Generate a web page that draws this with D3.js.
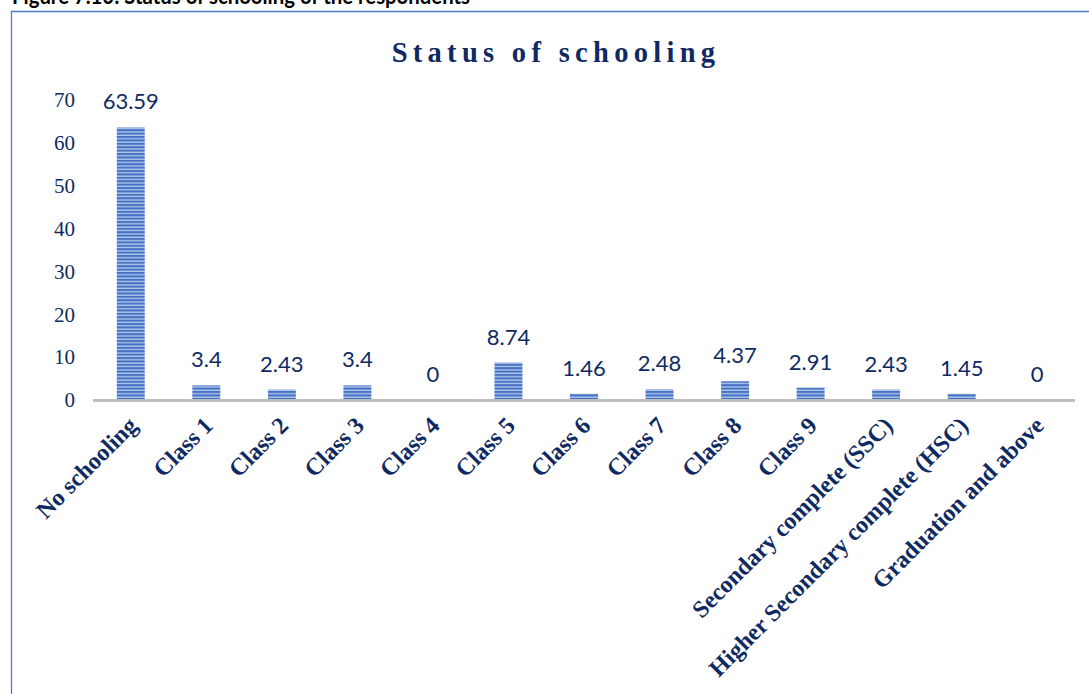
<!DOCTYPE html>
<html><head><meta charset="utf-8">
<script src="https://cdn.jsdelivr.net/npm/d3@7"></script>
<style>html,body{margin:0;padding:0;background:#fff;overflow:hidden}</style>
</head><body><svg id="c" width="1089" height="694"></svg>
<script>
const categories = ["No schooling","Class 1","Class 2","Class 3","Class 4","Class 5","Class 6","Class 7","Class 8","Class 9","Secondary complete (SSC)","Higher Secondary complete (HSC)","Graduation and above"];
const values = [63.59,3.4,2.43,3.4,0,8.74,1.46,2.48,4.37,2.91,2.43,1.45,0];
const yTicks = [0,10,20,30,40,50,60,70];
const chartTitle = "Status of schooling";
const figureCaption = "Figure 7.10: Status of schooling of the respondents";

const svg = d3.select("#c");
const navy = "#0F2A63";

const defs = svg.append("defs");
const pat = defs.append("pattern").attr("id","stripes").attr("patternUnits","userSpaceOnUse")
  .attr("width",8).attr("height",3.4);
pat.append("rect").attr("width",8).attr("height",3.4).attr("fill","#B7C9EA");
pat.append("rect").attr("width",8).attr("height",2.1).attr("fill","#4472C4");

// caption (partly cut off at top, as in the source page)
svg.append("text").attr("x",12).attr("y",4).attr("font-family","Lato, 'Open Sans', sans-serif")
  .attr("font-weight","bold").attr("font-size",22).attr("fill","#000")
  .attr("textLength",458).attr("lengthAdjust","spacingAndGlyphs").text(figureCaption);

svg.append("path").attr("d","M11.5,694 V11.5 H1089").attr("fill","none").attr("stroke","#4F7BC8").attr("stroke-width",1.3);

const x = d3.scaleBand().domain(categories).range([93,1075]).paddingInner(0.63).paddingOuter(0.315);
const y = d3.scaleLinear().domain([0,70]).range([400,100]);

svg.append("text").attr("x",556).attr("y",62).attr("text-anchor","middle")
  .attr("font-family","'Liberation Serif', 'Times New Roman', serif").attr("font-weight","bold")
  .attr("font-size",28.5).attr("letter-spacing",5.3).attr("fill",navy).text(chartTitle);

const yAxis = d3.axisLeft(y).tickValues(yTicks).tickSize(0).tickPadding(0);
const gy = svg.append("g").attr("transform","translate(75,0)").call(yAxis);
gy.select(".domain").remove();
gy.selectAll("text").attr("font-family","'Liberation Serif', 'Times New Roman', serif")
  .attr("font-size",21).attr("fill",navy);

svg.append("g").selectAll("rect").data(values).join("rect")
  .attr("x",(d,i)=>x(categories[i])).attr("width",x.bandwidth())
  .attr("y",d=>y(d)).attr("height",d=>y(0)-y(d)).attr("fill","url(#stripes)");

svg.append("line").attr("x1",93).attr("x2",1075).attr("y1",y(0)+0.5).attr("y2",y(0)+0.5)
  .attr("stroke","#BFBFBF").attr("stroke-width",3);

svg.append("g").selectAll("text").data(values).join("text")
  .attr("x",(d,i)=>x(categories[i])+x.bandwidth()/2).attr("y",d=>y(d)-18)
  .attr("text-anchor","middle").attr("font-family","Lato, sans-serif").attr("font-size",22)
  .attr("fill",navy).text(d=>d);

const xAxis = d3.axisBottom(x).tickSize(0);
const gx = svg.append("g").attr("transform",`translate(0,${y(0)})`).call(xAxis);
gx.select(".domain").remove();
gx.selectAll("text").attr("font-family","'Liberation Serif', 'Times New Roman', serif")
  .attr("font-weight","bold").attr("font-size",24).attr("fill",navy)
  .attr("text-anchor","end").attr("dy",0)
  .attr("transform","translate(8,27) rotate(-45)").attr("y",0).attr("x",0);
</script></body></html>
